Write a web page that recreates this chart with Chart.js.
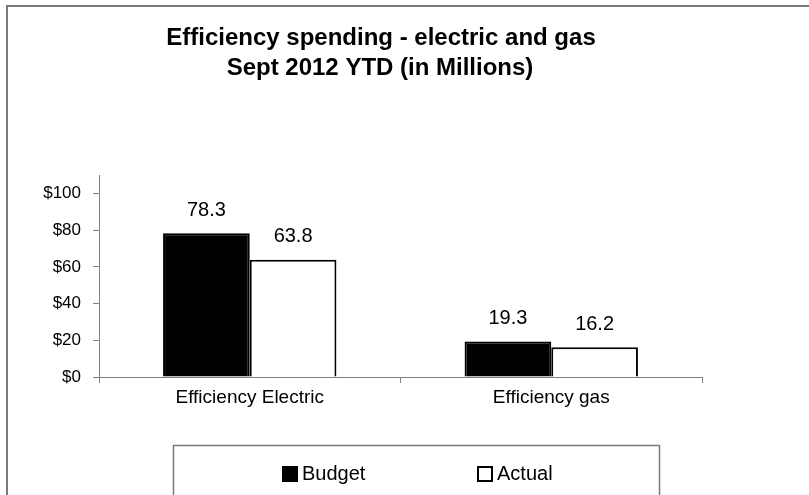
<!DOCTYPE html>
<html>
<head>
<meta charset="utf-8">
<title>Efficiency spending</title>
<script src="https://cdn.jsdelivr.net/npm/chart.js@4/dist/chart.umd.min.js"></script>
<style>
  html, body { margin: 0; padding: 0; background: #fff; }
  canvas { display: block; }
</style>
</head>
<body>
<canvas id="chart" width="809" height="495"></canvas>
<script>
const FONT = '"Liberation Sans", Arial, sans-serif'

const categories = ['Efficiency Electric', 'Efficiency gas']
const budget = [78.3, 19.3]
const actual = [63.8, 16.2]
const yTicks = [0, 20, 40, 60, 80, 100]
const titleLines = ['Efficiency spending - electric and gas', 'Sept 2012 YTD (in Millions)']

// frame round the whole chart, the two-line title and the boxed legend
const decorations = {
  id: 'decorations',
  beforeDraw (chart) {
    const ctx = chart.ctx
    ctx.save()
    ctx.fillStyle = '#fff'
    ctx.fillRect(0, 0, chart.width, chart.height)
    ctx.strokeStyle = '#7a7a7a'
    ctx.lineWidth = 2
    ctx.strokeRect(7, 6, chart.width + 20, chart.height + 20)

    ctx.fillStyle = '#000'
    ctx.font = 'bold 24px ' + FONT
    ctx.textAlign = 'center'
    ctx.textBaseline = 'alphabetic'
    ctx.fillText(titleLines[0], 381, 45)
    ctx.fillText(titleLines[1], 380, 75)
    ctx.restore()
  },
  afterDraw (chart) {
    const ctx = chart.ctx
    ctx.save()
    ctx.strokeStyle = '#7a7a7a'
    ctx.lineWidth = 1.5
    ctx.strokeRect(173.5, 445.5, 486, 80)

    const items = [{ x: 282 }, { x: 477 }]
    ctx.font = '20px ' + FONT
    ctx.textBaseline = 'middle'
    ctx.textAlign = 'left'
    chart.data.datasets.forEach((ds, i) => {
      const x = items[i].x
      ctx.fillStyle = ds.backgroundColor
      ctx.fillRect(x, 466, 16, 16)
      ctx.strokeStyle = '#000'
      ctx.lineWidth = 2
      ctx.strokeRect(x + 1, 467, 14, 14)
      ctx.fillStyle = '#000'
      ctx.fillText(ds.label, x + 20, 474)
    })
    ctx.restore()
  },
  afterDatasetsDraw (chart) {
    const ctx = chart.ctx
    ctx.save()
    ctx.font = '20px ' + FONT
    ctx.fillStyle = '#000'
    ctx.textAlign = 'center'
    ctx.textBaseline = 'middle'
    chart.data.datasets.forEach((ds, i) => {
      chart.getDatasetMeta(i).data.forEach((bar, j) => {
        ctx.fillText(ds.data[j].toFixed(1), bar.x, bar.y - 23)
      })
    })
    ctx.restore()
  }
}

new Chart(document.getElementById('chart'), {
  type: 'bar',
  data: {
    labels: categories,
    datasets: [
      {
        label: 'Budget',
        data: budget,
        backgroundColor: '#000',
        borderColor: '#000',
        borderWidth: 2
      },
      {
        label: 'Actual',
        data: actual,
        backgroundColor: '#fff',
        borderColor: '#000',
        borderWidth: 2
      }
    ]
  },
  options: {
    responsive: false,
    devicePixelRatio: 1,
    animation: false,
    layout: { padding: { top: 175, left: 0, right: 107, bottom: 78 } },
    categoryPercentage: 0.575,
    barPercentage: 1.0,
    plugins: {
      legend: { display: false },
      title: { display: false },
      tooltip: { enabled: false }
    },
    scales: {
      x: {
        afterFit (scale) { scale.height = 40 },
        border: { color: '#808080', width: 1 },
        grid: { offset: true, drawOnChartArea: false, tickLength: 6, color: '#808080' },
        ticks: { color: '#000', padding: 3, font: { family: FONT, size: 19 } }
      },
      y: {
        min: 0,
        max: 110,
        afterFit (scale) { scale.width = 99 },
        // axis runs up to 110 but is only labelled every 20 up to 100
        afterBuildTicks (scale) { scale.ticks = yTicks.map(v => ({ value: v })) },
        border: { color: '#808080', width: 1 },
        grid: { drawOnChartArea: false, tickLength: 6, color: '#808080' },
        ticks: {
          color: '#000',
          padding: 12,
          font: { family: FONT, size: 17 },
          callback: v => '$' + v
        }
      }
    }
  },
  plugins: [decorations]
})
</script>
</body>
</html>
